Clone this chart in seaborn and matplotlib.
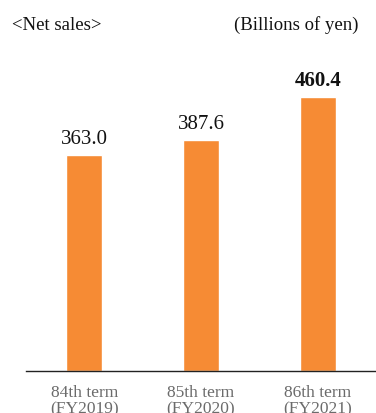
import matplotlib
matplotlib.use("Agg")
import matplotlib.pyplot as plt
import seaborn as sns
import pandas as pd

terms = ["84th term\n(FY2019)", "85th term\n(FY2020)", "86th term\n(FY2021)"]
net_sales = [363.0, 387.6, 460.4]
value_labels = ["363.0", "387.6", "460.4"]
bold_last = [False, False, True]

sns.set_theme(style="white")
plt.rcParams["font.family"] = ["Liberation Serif", "DejaVu Serif"]

df = pd.DataFrame({"term": terms, "sales": net_sales})

fig = plt.figure(figsize=(3.76, 4.14), dpi=100)
ax = fig.add_axes([26 / 376, 42.5 / 414, 350 / 376, 297.5 / 414])

sns.barplot(data=df, x="term", y="sales", color="#F68B34", saturation=1,
            width=0.31, ax=ax)

ax.set_xlim(-0.5, 2.5)
ax.set_ylim(0, 500)

for i, (v, lab, b) in enumerate(zip(net_sales, value_labels, bold_last)):
    ax.annotate(lab, (i, v), xytext=(0, 5), textcoords="offset points",
                ha="center", va="bottom", fontsize=15,
                fontweight="bold" if b else "normal", color="#111111")

ax.set_xlabel("")
ax.set_ylabel("")
ax.set_yticks([])
ax.tick_params(axis="x", length=0, pad=9.5, labelsize=12.5, labelcolor="#6b6b6b")
for lbl in ax.get_xticklabels():
    lbl.set_linespacing(1.05)

for s in ["top", "right", "left"]:
    ax.spines[s].set_visible(False)
ax.spines["bottom"].set_color("#222222")
ax.spines["bottom"].set_linewidth(1.0)

fig.text(12 / 376, 1 - 25 / 414, "<Net sales>", fontsize=13.5, ha="left",
         va="center", color="#111111")
fig.text(359 / 376, 1 - 25 / 414, "(Billions of yen)", fontsize=13.5, ha="right",
         va="center", color="#111111")

fig.savefig("out.png", dpi=100)
